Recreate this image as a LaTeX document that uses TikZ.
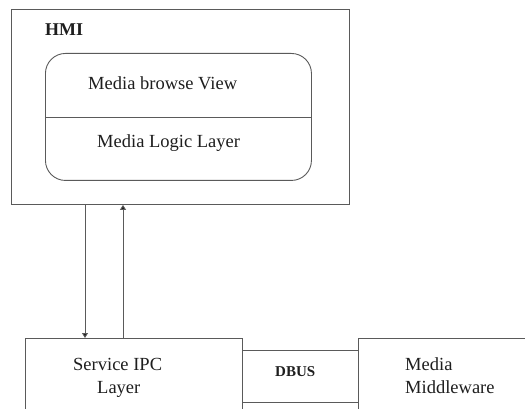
\documentclass[tikz,border=0pt]{standalone}
\usepackage{fontspec}
\setmainfont{Liberation Serif}
\usetikzlibrary{arrows.meta}
\definecolor{edge}{HTML}{5A5A5A}
\definecolor{ink}{HTML}{1E1E1E}
\begin{document}
\begin{tikzpicture}[x=1pt,y=-1pt,
  box/.style={draw=edge,line width=0.9pt,inner sep=0pt,anchor=north west},
  label/.style={inner sep=0pt,anchor=base west,text=ink,font=\fontsize{18.5}{22}\selectfont},
  boldlabel/.style={label,font=\fontsize{18}{22}\selectfont\bfseries},
  link/.style={draw=edge,line width=0.9pt,-{Triangle[width=6pt,length=5pt,fill=ink]}}]
\useasboundingbox (0,0) rectangle (525,409);
\clip (0,0) rectangle (525,409);

% HMI container
\node[box,minimum width=338pt,minimum height=194.5pt] (hmi) at (11,9.5) {};
\node[boldlabel] (hmilabel) at (45,36) {HMI};

% media view / logic block
\node[box,rounded corners=20pt,minimum width=266pt,minimum height=127pt] (media) at (45,53) {};
\coordinate (divy) at (0,117);
\draw[edge,line width=0.9pt] (media.west |- divy) -- (media.east |- divy);
\node[label] (view) at (88,90) {Media browse View};
\node[label] (logic) at (97,148) {Media Logic Layer};

% lower row
\node[box,minimum width=217pt,minimum height=120pt] (ipc) at (25,338) {};
\node[box,minimum width=116pt,minimum height=52pt] (dbus) at (242,350) {};
\node[box,minimum width=220pt,minimum height=120pt] (mw) at (358,338) {};

\node[label] (ipc1) at (73,370) {Service IPC};
\node[label] (ipc2) at (97,393) {Layer};
\node[boldlabel,font=\fontsize{15}{18}\selectfont\bfseries] (dbuslabel) at (275,376) {DBUS};
\node[label] (mw1) at (405,370) {Media};
\node[label] (mw2) at (405,393) {Middleware};

% request / response between HMI and service layer
\coordinate (downx) at (85,0);
\coordinate (upx) at (123,0);
\draw[link] (hmi.south -| downx) -- (ipc.north -| downx);
\draw[link] (ipc.north -| upx) -- (hmi.south -| upx);
\end{tikzpicture}
\end{document}
